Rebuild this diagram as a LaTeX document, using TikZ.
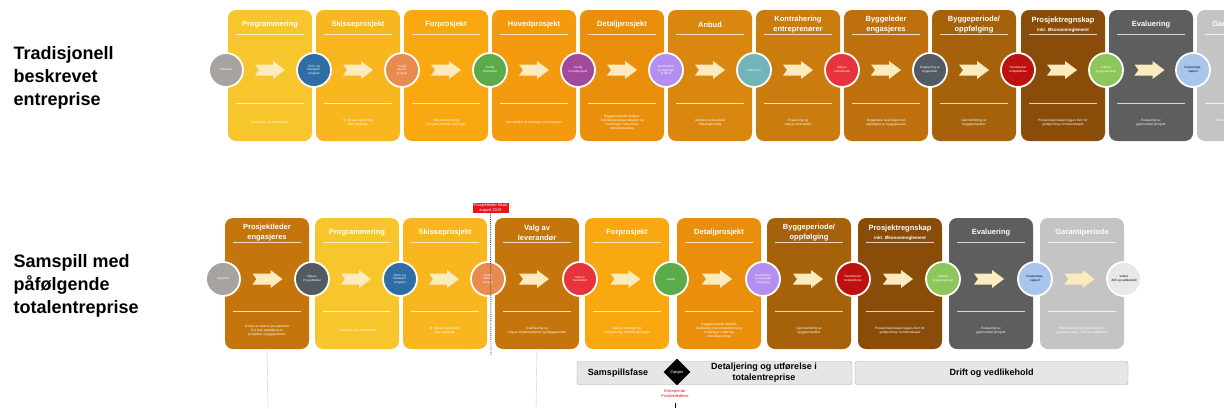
\documentclass[tikz,border=0pt]{standalone}
\usepackage{fontspec}
\setmainfont{Liberation Sans}
\usetikzlibrary{calc,shapes.geometric}

% fase colours
\definecolor{fProg}{HTML}{F7C62C}
\definecolor{fSkisse}{HTML}{F8B71E}
\definecolor{fFor}{HTML}{F9A80F}
\definecolor{fHoved}{HTML}{F49A0F}
\definecolor{fDetalj}{HTML}{EA8F0C}
\definecolor{fAnbud}{HTML}{DA870F}
\definecolor{fKontr}{HTML}{CB7C0E}
\definecolor{fBleder}{HTML}{BE700E}
\definecolor{fPL}{HTML}{C4760D}
\definecolor{fBper}{HTML}{A6620B}
\definecolor{fRegn}{HTML}{8A4D09}
\definecolor{fEval}{HTML}{5E5E5E}
\definecolor{fGaranti}{HTML}{C4C4C4}
% milestone colours
\definecolor{mGrey}{HTML}{A8A39E}
\definecolor{mBlue}{HTML}{2F6EA5}
\definecolor{mSalmon}{HTML}{E98A4E}
\definecolor{mGreen}{HTML}{5CAB4A}
\definecolor{mPurple}{HTML}{A14A9C}
\definecolor{mLav}{HTML}{B48EF0}
\definecolor{mTeal}{HTML}{71B5B9}
\definecolor{mRed}{HTML}{E8333C}
\definecolor{mDark}{HTML}{535A62}
\definecolor{mDarkred}{HTML}{BF1010}
\definecolor{mLgreen}{HTML}{8DC65A}
\definecolor{mLblue}{HTML}{A8C5EC}
\definecolor{mLgrey}{HTML}{E8E8E8}
\definecolor{cream}{HTML}{FDEBC0}
\definecolor{barGrey}{HTML}{E6E6E6}
\definecolor{labelRed}{HTML}{E8141C}

\tikzset{
  phase/.style={rounded corners=8pt, minimum width=84pt, minimum height=131pt, inner sep=0pt},
  phasetitle/.style={text=white, font=\bfseries\fontsize{7.5}{9.5}\selectfont, align=center},
  phasenote/.style={text=white, font=\fontsize{3.2}{4}\selectfont, align=center},
  sepline/.style={white, opacity=0.75, line width=0.7pt},
  milestone/.style={circle, draw=white, line width=1.8pt, minimum size=34pt, inner sep=0pt,
    align=center, text=white, font=\fontsize{3}{3.6}\selectfont},
  darktext/.style={text=black},
  chevron/.style={fill=cream},
  rowlabel/.style={anchor=west, align=left, font=\bfseries\fontsize{18}{23}\selectfont},
  phasebar/.style={draw=gray!70, fill=barGrey, rounded corners=2pt, minimum height=23pt,
    inner sep=0pt, font=\bfseries\fontsize{9}{11}\selectfont, align=center},
}

% fase box: name, left x, top y, colour, title, note
\newcommand{\fase}[6]{%
  \node[phase, fill=#4] (#1) at (#2+42,#3+65.5) {};
  \node[phasetitle] at ($(#1.north)+(0,15)$) {#5};
  \draw[sepline] ($(#1.north west)+(8,25)$) -- ($(#1.north east)+(-8,25)$);
  \draw[sepline] ($(#1.north west)+(8,94)$) -- ($(#1.north east)+(-8,94)$);
  \node[phasenote] at ($(#1.north)+(0,113)$) {#6};}

\newcommand{\pil}[1]{%
  \fill[chevron, shift={(#1)}] (-15,-5.5) -- (3,-5.5) -- (3,-9) -- (15,0) -- (3,9)
    -- (3,5.5) -- (-15,5.5) -- (-11,0) -- cycle;}

\begin{document}
\begin{tikzpicture}[x=1pt,y=-1pt]
  \clip (0,0) rectangle (1224,408);

  \node[rowlabel] (trad) at (10,78) {Tradisjonell\\beskrevet\\entreprise};
  \node[rowlabel] (samsp) at (10,286) {Samspill med\\påfølgende\\totalentreprise};

  % tradisjonell rekke
  \fase{t1}{228}{10}{fProg}{Programmering}{Funksjons- og romprogram}
  \fase{t2}{316}{10}{fSkisse}{Skisseprosjekt}{Ill. skisser og løsning\\etter romprogr.}
  \fase{t3}{404}{10}{fFor}{Forprosjekt}{Valg av løsning og\\prosjekt, tekniske løsninger}
  \fase{t4}{492}{10}{fHoved}{Hovedprosjekt}{Mer detaljer av løsningen og konsepter}
  \fase{t5}{580}{10}{fDetalj}{Detaljprosjekt}{Byggeprosjektet detaljert\\Tekniske løsninger detaljert og\\fordelinger i ulike tilbud\\Anbudsgrunnlag}
  \fase{t6}{668}{10}{fAnbud}{Anbud}{Anbudet ut på anbud\\Tilbudsgrunnlag}
  \fase{t7}{756}{10}{fKontr}{Kontrahering\\entreprenører}{Evaluering og\\valg av leverandør}
  \fase{t8}{844}{10}{fBleder}{Byggeleder\\engasjeres}{Byggeleder skal følge med\\oppfølging av byggeplassen}
  \fase{t9}{932}{10}{fBper}{Byggeperiode/\\oppfølging}{Gjennomføring av\\byggeprosjektet}
  \fase{t10}{1021}{10}{fRegn}{Prosjektregnskap\\{\fontsize{4.5}{6}\selectfont inkl. Økonomireglement}}{Prosjektregnskapet legges frem for\\godkjenning i formannskapet}
  \fase{t11}{1109}{10}{fEval}{Evaluering}{Evaluering av\\gjennomført prosjekt}
  \fase{t12}{1197}{10}{fGaranti}{Garantiperiode}{Ettårsbefaring og reklamasjoner i\\garantiperioden}

  \node[milestone, fill=mGrey] (a0) at (226,70) {Oppstart};
  \node[milestone, fill=mBlue] (a1) at (314,70) {Rom- og\\funksjons-\\program};
  \node[milestone, fill=mSalmon] (a2) at (402,70) {Ferdig\\skisse-\\prosjekt};
  \node[milestone, fill=mGreen] (a3) at (490,70) {Ferdig\\forprosjekt};
  \node[milestone, fill=mPurple] (a4) at (578,70) {Ferdig\\hovedprosjekt};
  \node[milestone, fill=mLav] (a5) at (666,70) {Beskrivelser\\og tegninger\\til tilbud};
  \node[milestone, fill=mTeal] (a6) at (754,70) {Anbud inn};
  \node[milestone, fill=mRed] (a7) at (842,70) {Valg av\\entreprenør};
  \node[milestone, fill=mDark] (a8) at (930,70) {Engasjering av\\byggeleder};
  \node[milestone, fill=mDarkred] (a9) at (1018,70) {Overtakelse/\\ferdigstillelse};
  \node[milestone, fill=mLgreen] (a10) at (1106,70) {Endelig\\byggeregnskap};
  \node[milestone, fill=mLblue, darktext] (a11) at (1193,70) {Evaluerings-\\rapport};

  \pil{$(a0)!0.5!(a1)$}
  \pil{$(a1)!0.5!(a2)$}
  \pil{$(a2)!0.5!(a3)$}
  \pil{$(a3)!0.5!(a4)$}
  \pil{$(a4)!0.5!(a5)$}
  \pil{$(a5)!0.5!(a6)$}
  \pil{$(a6)!0.5!(a7)$}
  \pil{$(a7)!0.5!(a8)$}
  \pil{$(a8)!0.5!(a9)$}
  \pil{$(a9)!0.5!(a10)$}
  \pil{$(a10)!0.5!(a11)$}

  % samspill rekke
  \fase{p1}{225}{218}{fPL}{Prosjektleder\\engasjeres}{Innleie av ekstern prosjektleder\\til å lede oppfølging av\\prosjektet i byggeperioden}
  \fase{p2}{315}{218}{fProg}{Programmering}{Funksjons- og romprogram}
  \fase{p3}{403}{218}{fSkisse}{Skisseprosjekt}{Ill. skisser og løsning\\etter romprogr.}
  \fase{p4}{495}{218}{fPL}{Valg av\\leverandør}{Kvalifisering og\\valg av totalentreprenør og byggeperiode}
  \fase{p5}{585}{218}{fFor}{Forprosjekt}{Valg av løsninger og\\prosjektering, tekniske løsninger}
  \fase{p6}{677}{218}{fDetalj}{Detaljprosjekt}{Byggeprosjektet detaljert\\Detaljering med prosjektering og\\fordelinger i ulike fag\\Arbeidsgrunnlag}
  \fase{p7}{767}{218}{fBper}{Byggeperiode/\\oppfølging}{Gjennomføring av\\byggeprosjektet}
  \fase{p8}{858}{218}{fRegn}{Prosjektregnskap\\{\fontsize{4.5}{6}\selectfont inkl. Økonomireglement}}{Prosjektregnskapet legges frem for\\godkjenning i formannskapet}
  \fase{p9}{949}{218}{fEval}{Evaluering}{Evaluering av\\gjennomført prosjekt}
  \fase{p10}{1040}{218}{fGaranti}{Garantiperiode}{Ettårsbefaring og reklamasjoner i\\garantiperioden, drift og vedlikehold}

  \node[milestone, fill=mGrey] (b0) at (223,279) {Oppstart};
  \node[milestone, fill=mDark] (b1) at (312,279) {Valg av\\Prosjektleder};
  \node[milestone, fill=mBlue] (b2) at (400,279) {Rom- og\\funksjons-\\program};
  \node[milestone, fill=mSalmon] (b3) at (488,279) {Ferdig\\skisse-\\prosjekt};
  \node[milestone, fill=mRed] (b4) at (580,279) {Valg av\\leverandør};
  \node[milestone, fill=mGreen] (b5) at (671,279) {Avtale};
  \node[milestone, fill=mLav] (b6) at (763,279) {Beskrivelser\\og tegninger\\til bygging};
  \node[milestone, fill=mDarkred] (b7) at (853,279) {Overtakelse/\\ferdigstillelse};
  \node[milestone, fill=mLgreen] (b8) at (943,279) {Endelig\\byggeregnskap};
  \node[milestone, fill=mLblue, darktext] (b9) at (1035,279) {Evaluerings-\\rapport};
  \node[milestone, fill=mLgrey, darktext] (b10) at (1124,279) {Videre\\drift og vedlikehold};

  \pil{$(b0)!0.5!(b1)$}
  \pil{$(b1)!0.5!(b2)$}
  \pil{$(b2)!0.5!(b3)$}
  \pil{$(b3)!0.5!(b4)$}
  \pil{$(b4)!0.5!(b5)$}
  \pil{$(b5)!0.5!(b6)$}
  \pil{$(b6)!0.5!(b7)$}
  \pil{$(b7)!0.5!(b8)$}
  \pil{$(b8)!0.5!(b9)$}
  \pil{$(b9)!0.5!(b10)$}

  % prosjektleder på plass
  \node[fill=labelRed, text=white, font=\fontsize{4}{4.8}\selectfont, align=center,
    inner sep=1pt, minimum width=36pt] (pltid) at (490.5,208) {Prosjektleder tilsatt\\august 2019};
  \coordinate (plend) at (491,355);
  \draw[densely dotted, line width=0.9pt, gray!60!black] (pltid.south) -- (plend);

  % faser under
  \node[phasebar, minimum width=275pt] (samspill) at (714.5,373) {};
  \node[font=\bfseries\fontsize{9}{11}\selectfont] (sfase) at (618,373) {Samspillsfase};
  \node[font=\bfseries\fontsize{9}{11}\selectfont, align=center] (detalj) at (764,373)
    {Detaljering og utførelse i\\totalentreprise};
  \node[diamond, fill=black, minimum size=27pt, inner sep=0pt, text=white,
    font=\fontsize{4}{5}\selectfont] (opsjon) at (677,372) {Opsjon};
  \node[phasebar, minimum width=273pt] (drift) at (991.5,373) {Drift og vedlikehold};
  \node[text=labelRed, font=\fontsize{4}{5.5}\selectfont, align=center, anchor=north]
    (entr) at (675,386) {Entreprenør\\Prosjektledelse};

  \coordinate (bunn1) at (268,408);
  \coordinate (bunn2) at (536,408);
  \coordinate (bunn3a) at (675,403);
  \coordinate (bunn3) at (675,408);
  \draw[gray!40] (p1.south) -- (bunn1);
  \draw[gray!40] (p4.south) -- (bunn2);
  \draw[thick] (bunn3a) -- (bunn3);
\end{tikzpicture}
\end{document}
